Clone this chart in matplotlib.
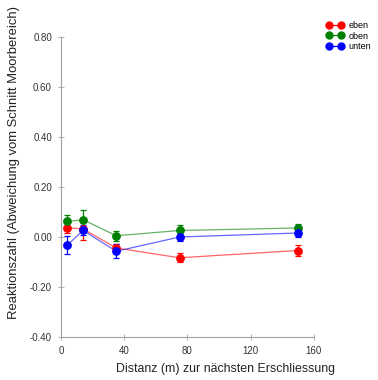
import matplotlib
matplotlib.use("Agg")
import matplotlib.pyplot as plt
from matplotlib.lines import Line2D

plt.rcParams['font.family'] = ['Liberation Sans', 'DejaVu Sans']

distanz = [4, 14, 35, 75, 150]
eben = [0.037, 0.032, -0.044, -0.083, -0.054]
eben_err = [0.02, 0.045, 0.015, 0.018, 0.02]
oben = [0.062, 0.069, 0.005, 0.026, 0.036]
oben_err = [0.026, 0.04, 0.02, 0.02, 0.015]
unten = [-0.032, 0.026, -0.057, 0.0, 0.016]
unten_err = [0.035, 0.02, 0.028, 0.015, 0.015]

fig = plt.figure(figsize=(3.78, 3.80), dpi=100)
ax = fig.add_axes([0.1614, 0.113, 0.669, 0.79])

serien = [(eben, eben_err, '#ff0000', 'eben'),
          (oben, oben_err, '#008000', 'oben'),
          (unten, unten_err, '#0000ff', 'unten')]
handles = []
for werte, fehler, farbe, name in serien:
    ax.plot(distanz, werte, color=farbe, lw=0.9, alpha=0.6)
    ax.errorbar(distanz, werte, yerr=fehler, color=farbe, ls='none', marker='o',
                ms=5.3, capsize=2.5, elinewidth=0.9, capthick=0.9, ecolor=farbe)
    handles.append(Line2D([], [], color=farbe, lw=0.9, marker='o', ms=5, label=name))

ax.set_xlim(0, 160)
ax.set_ylim(-0.4, 0.8)
ax.set_xticks([0, 40, 80, 120, 160])
ax.set_yticks([-0.4, -0.2, 0, 0.2, 0.4, 0.6, 0.8])
ax.set_yticklabels(['-0.40', '-0.20', '0.00', '0.20', '0.40', '0.60', '0.80'])
for s in ['top', 'right']:
    ax.spines[s].set_visible(False)
for s in ['left', 'bottom']:
    ax.spines[s].set_color('#a0a0a0')
    ax.spines[s].set_linewidth(0.8)
ax.tick_params(direction='inout', length=5, width=0.6, color='#a0a0a0',
               labelsize=7, labelcolor='#333333', pad=4)
ax.set_xlabel('Distanz (m) zur nächsten Erschliessung', fontsize=8.9, color='#222222')
ax.xaxis.set_label_coords(0.652, -0.085)
ax.set_ylabel('Reaktionszahl (Abweichung vom Schnitt Moorbereich)', fontsize=9.4,
              color='#222222')
ax.yaxis.set_label_coords(-0.163, 0.583)
ax.legend(handles=handles, loc='upper left', bbox_to_anchor=(0.862, 0.944),
          bbox_transform=fig.transFigure, frameon=False, fontsize=6.5,
          handlelength=2.0, handletextpad=0.5, labelspacing=0.15, numpoints=2,
          borderpad=0, borderaxespad=0)

fig.savefig('out.png', dpi=100)
